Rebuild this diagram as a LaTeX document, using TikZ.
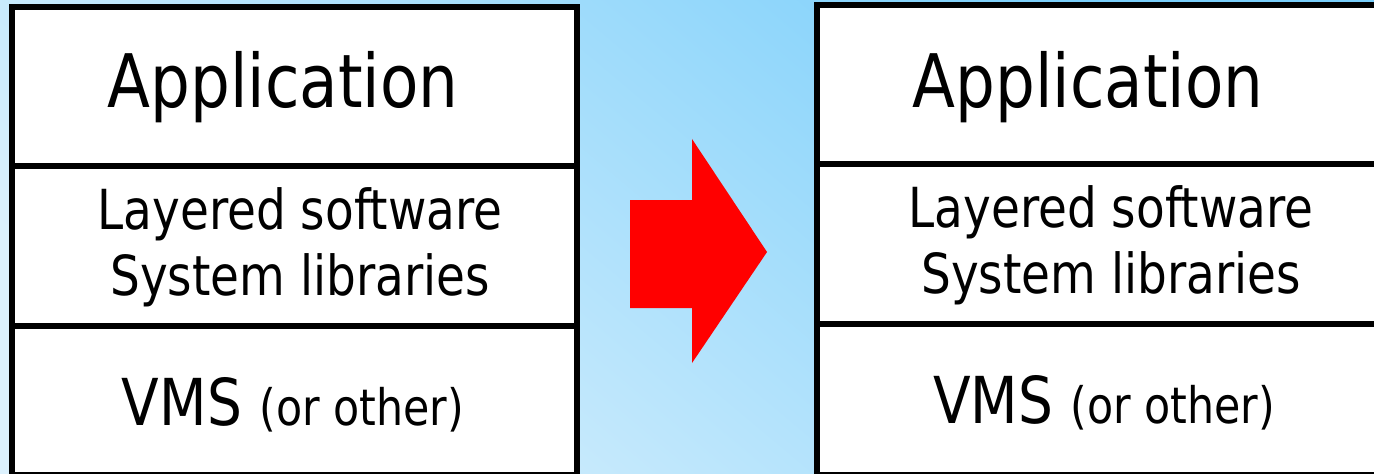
\documentclass[tikz,border=0pt]{standalone}
\usepackage{fontspec}
\setmainfont{DejaVu Sans}[FakeStretch=0.85]
\usetikzlibrary{positioning}
\definecolor{skytop}{HTML}{78CEFA}
\definecolor{skybot}{HTML}{DCF1FD}
\definecolor{arrowred}{HTML}{FF0000}

\begin{document}
\begin{tikzpicture}[x=0.01cm,y=-0.01cm,
  layer/.style={line width=1.7pt},
  big/.style={font=\fontsize{21}{25}\selectfont,anchor=base,inner sep=0pt},
  mid/.style={font=\fontsize{15.7}{18.8}\selectfont,align=center,inner sep=0pt},
  os/.style={font=\fontsize{18.4}{22}\selectfont,anchor=base,inner sep=0pt}]
  \useasboundingbox (0,0) rectangle (1374,473);
  \shade[top color=skytop,bottom color=skybot,shading angle=-40] (0,0) rectangle (1374,473);
  \foreach \x/\dy/\sx/\s in {12/0/0/l,817/-2/6/r}{
    \filldraw[layer,fill=white] (\x,7+\dy) rectangle (\x+565,475);
    \draw[layer] (\x,166+\dy) -- +(565,0);
    \draw[layer] (\x,326+\dy) -- +(565,0);
    \node[big] (app-\s) at (\x+271,108) {Application};
    \node[mid] (lib-\s) at (\x+288+\sx,247+\dy) {Layered software\\System libraries};
    \node[os] (os-\s) at (\x+281+\sx,425+\dy) {VMS {\fontsize{14.3}{18}\selectfont (or other)}};
  }
  \fill[arrowred] (630,200) -- (692,200) -- (692,139) -- (767,252)
    -- (692,363) -- (692,308) -- (630,308) -- cycle;
\end{tikzpicture}
\end{document}
